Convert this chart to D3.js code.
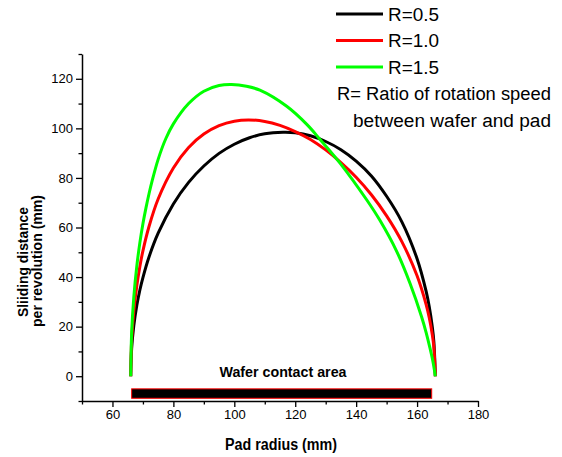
<!DOCTYPE html>
<html>
<head>
<meta charset="utf-8">
<script src="https://cdn.jsdelivr.net/npm/d3@7"></script>
<style>
  body { margin: 0; background: #fff; }
  text { font-family: "Liberation Sans", Arial, sans-serif; fill: #000; }
</style>
</head>
<body>
<svg id="chart" width="562" height="457"></svg>
<script>
// pad radius (mm) and sliding distance per revolution (mm)
var radiusR05 = [66, 66.3, 67, 68, 69, 70, 72, 75, 80, 85, 90, 95, 100, 105, 110, 116, 120, 125, 130, 135, 140, 145, 150, 155, 160, 163, 164, 165, 165.5, 166];
var distR05   = [0, 11.2, 20.3, 28.6, 34.8, 39.8, 48.1, 57.7, 69.5, 78.2, 84.8, 89.9, 93.6, 96.2, 97.8, 98.4, 98.2, 97.0, 94.7, 91.4, 86.8, 80.8, 72.6, 62.3, 47.4, 34.1, 28.0, 19.9, 14.1, 0];

var radiusR10 = [66, 66.3, 67, 68, 69, 70, 72, 75, 80, 85, 90, 95, 100, 104.7, 110, 115, 120, 125, 130, 135, 140, 145, 150, 155, 160, 163, 164, 165, 165.5, 166];
var distR10   = [0, 14.5, 26.2, 36.6, 44.3, 50.6, 60.4, 71.5, 84.0, 92.3, 97.7, 101.1, 102.9, 103.4, 102.8, 101.2, 98.7, 95.5, 91.3, 86.2, 80.3, 73.2, 64.7, 54.3, 40.5, 28.8, 23.6, 16.7, 11.8, 0];

var radiusR15 = [66, 66.3, 67, 68, 69, 70, 71, 72, 73, 75, 77.5, 80, 85, 90, 95, 99.1, 104, 108.4, 117.2, 123.8, 128.1, 134.7, 143.5, 147.8, 153.3, 157.7, 161.5, 163, 164.2, 165.2, 166];
var distR15   = [0, 17.6, 31.8, 44.5, 53.9, 61.5, 67.9, 73.6, 78.7, 87.5, 95.8, 101.8, 110.0, 115.0, 117.3, 117.7, 117.0, 115.4, 108.9, 101.6, 95.6, 86.0, 71.1, 62.9, 50.4, 37.4, 23.9, 17.5, 11.5, 6.0, 0];

var seriesNames  = ["R=0.5", "R=1.0", "R=1.5"];
var seriesColors = ["#000000", "#ff0000", "#00ff00"];

var xTicks = [60, 80, 100, 120, 140, 160, 180];
var xMinorTicks = [50, 70, 90, 110, 130, 150, 170];
var yTicks = [0, 20, 40, 60, 80, 100, 120];
var yMinorTicks = [-10, 10, 30, 50, 70, 90, 110, 130];

var waferArea = [66.3, 164.8];   // wafer contact area on the pad (mm)

var svg = d3.select("#chart");

var x = d3.scaleLinear().domain([50, 180]).range([82, 478]);
var y = d3.scaleLinear().domain([-10, 130]).range([401, 54]);

// axes
svg.append("g").attr("transform", "translate(0,401)")
    .call(d3.axisBottom(x).tickValues(xTicks).tickSize(6).tickSizeOuter(0).tickPadding(3));
svg.append("g").attr("transform", "translate(0,401)")
    .call(d3.axisBottom(x).tickValues(xMinorTicks).tickSize(3.5).tickSizeOuter(0).tickFormat(""))
    .select(".domain").remove();

svg.append("g").attr("transform", "translate(82,0)")
    .call(d3.axisLeft(y).tickValues(yTicks).tickSize(6).tickSizeOuter(0).tickPadding(3));
svg.append("g").attr("transform", "translate(82,0)")
    .call(d3.axisLeft(y).tickValues(yMinorTicks).tickSize(3.5).tickSizeOuter(0).tickFormat(""))
    .select(".domain").remove();

svg.selectAll(".domain").attr("stroke", "#000").attr("stroke-width", 1.5);
svg.selectAll(".tick line").attr("stroke", "#000").attr("stroke-width", 1.3);
svg.selectAll(".tick text").attr("font-size", 13).attr("font-family", "Liberation Sans, Arial, sans-serif").attr("fill", "#000");

// wafer contact bar
svg.append("rect")
    .attr("x", x(waferArea[0]))
    .attr("y", y(-5.1))
    .attr("width", x(waferArea[1]) - x(waferArea[0]))
    .attr("height", y(-8.9) - y(-5.1))
    .attr("fill", "#000")
    .attr("stroke", "#ff0000")
    .attr("stroke-width", 1);

svg.append("text")
    .attr("x", 283).attr("y", 377)
    .attr("text-anchor", "middle")
    .attr("font-size", 15).attr("font-weight", "bold")
    .attr("textLength", 127).attr("lengthAdjust", "spacingAndGlyphs")
    .text("Wafer contact area");

// curves
var curveData = [
    d3.zip(radiusR05, distR05),
    d3.zip(radiusR10, distR10),
    d3.zip(radiusR15, distR15)
];

var line = d3.line()
    .x(function (d) { return x(d[0]); })
    .y(function (d) { return y(d[1]); })
    .curve(d3.curveCatmullRom.alpha(0.5));

svg.selectAll(".curve").data(curveData).enter().append("path")
    .attr("class", "curve")
    .attr("d", line)
    .attr("fill", "none")
    .attr("stroke", function (d, i) { return seriesColors[i]; })
    .attr("stroke-width", 3);

// legend
var legendY = [14, 40.5, 67];
seriesNames.forEach(function (name, i) {
    svg.append("line")
        .attr("x1", 336).attr("x2", 383)
        .attr("y1", legendY[i]).attr("y2", legendY[i])
        .attr("stroke", seriesColors[i]).attr("stroke-width", 3);
    svg.append("text")
        .attr("x", 388).attr("y", legendY[i] + 6.5)
        .attr("font-size", 18)
        .attr("textLength", 51).attr("lengthAdjust", "spacingAndGlyphs")
        .text(name);
});

svg.append("text")
    .attr("x", 337).attr("y", 100)
    .attr("font-size", 18)
    .attr("textLength", 214).attr("lengthAdjust", "spacingAndGlyphs")
    .text("R= Ratio of rotation speed");
svg.append("text")
    .attr("x", 353).attr("y", 127)
    .attr("font-size", 18)
    .attr("textLength", 198).attr("lengthAdjust", "spacingAndGlyphs")
    .text("between wafer and pad");

// axis titles
svg.append("text")
    .attr("x", 281).attr("y", 450)
    .attr("text-anchor", "middle")
    .attr("font-size", 16).attr("font-weight", "bold")
    .attr("textLength", 112).attr("lengthAdjust", "spacingAndGlyphs")
    .text("Pad radius (mm)");

svg.append("text")
    .attr("transform", "translate(27.5,262) rotate(-90)")
    .attr("text-anchor", "middle")
    .attr("font-size", 15).attr("font-weight", "bold")
    .attr("textLength", 110).attr("lengthAdjust", "spacingAndGlyphs")
    .text("Sliiding distance");
svg.append("text")
    .attr("transform", "translate(42,261) rotate(-90)")
    .attr("text-anchor", "middle")
    .attr("font-size", 15).attr("font-weight", "bold")
    .attr("textLength", 132).attr("lengthAdjust", "spacingAndGlyphs")
    .text("per revolution (mm)");
</script>
</body>
</html>
